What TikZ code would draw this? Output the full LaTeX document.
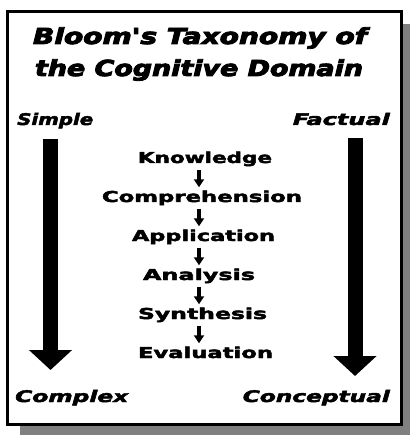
\documentclass[tikz,border=0pt]{standalone}
\usepackage{fontspec}
\usepackage{graphicx}
\usetikzlibrary{arrows.meta}
% heavy faces used for the lettering
\newfontfamily\titlesans{DejaVu Sans}[FakeBold=4]
\newfontfamily\heavysans{DejaVu Sans}[FakeBold=2.5]
% stretch a text to a given width, keeping its height
\newcommand\fitwidth[2]{\resizebox{#1}{\height}{#2}}
\definecolor{shadowgray}{HTML}{808080}
\begin{document}
\begin{tikzpicture}[x=1pt,y=-1pt,
  title/.style={inner sep=0pt, anchor=base,
    font=\titlesans\bfseries\itshape\fontsize{22}{22}\selectfont},
  side/.style={inner sep=0pt,
    font=\heavysans\bfseries\itshape\fontsize{16}{16}\selectfont},
  level/.style={inner sep=0pt, anchor=base, text height=11.5pt, text depth=3.5pt,
    font=\heavysans\bfseries\fontsize{15}{15}\selectfont},
  stepline/.style={line width=3.5pt, -{Triangle[width=10pt,length=8pt]},
    shorten <=3pt, shorten >=3pt},
  bigarrow/.style={line width=15pt, -{Triangle[width=42pt,length=20pt]}}
]
\useasboundingbox (0,0) rectangle (409,435);

% drop shadow and frame
\fill[shadowgray] (20,24) rectangle (420,445);
\draw[line width=3pt, fill=white] (7.5,11.5) rectangle (401.5,424.5);

% title
\node[title] (t1) at (200,44) {\fitwidth{334pt}{Bloom's Taxonomy of}};
\node[title] (t2) at (199,76) {\fitwidth{328pt}{the Cognitive Domain}};

% side labels
\node[side, anchor=base west] (simple) at (17,125) {\fitwidth{76pt}{Simple}};
\node[side, anchor=base east] (factual) at (390,125) {\fitwidth{97pt}{Factual}};
\node[side, anchor=base west] (complex) at (15,402) {\fitwidth{113pt}{Complex}};
\node[side, anchor=base east] (conceptual) at (390,402) {\fitwidth{147pt}{Conceptual}};

% big side arrows
\coordinate (ltop) at (50.5,139);
\coordinate (lend) at (50.5,370);
\coordinate (rtop) at (355,138);
\coordinate (rend) at (355,376);
\draw[bigarrow] (ltop) -- (lend);
\draw[bigarrow] (rtop) -- (rend);

% levels
\coordinate (axis) at (199,0);
\node[level] (know) at (205,163) {\fitwidth{134pt}{Knowledge}};
\node[level] (comp) at (202,202) {\fitwidth{200pt}{Comprehension}};
\node[level] (appl) at (203.5,241) {\fitwidth{143pt}{Application}};
\node[level] (anal) at (199,280) {\fitwidth{112pt}{Analysis}};
\node[level] (synt) at (202.5,319) {\fitwidth{129pt}{Synthesis}};
\node[level] (eval) at (205.5,358) {\fitwidth{135pt}{Evaluation}};

\draw[stepline] (know.south -| axis) -- (comp.north -| axis);
\draw[stepline] (comp.south -| axis) -- (appl.north -| axis);
\draw[stepline] (appl.south -| axis) -- (anal.north -| axis);
\draw[stepline] (anal.south -| axis) -- (synt.north -| axis);
\draw[stepline] (synt.south -| axis) -- (eval.north -| axis);
\end{tikzpicture}
\end{document}
